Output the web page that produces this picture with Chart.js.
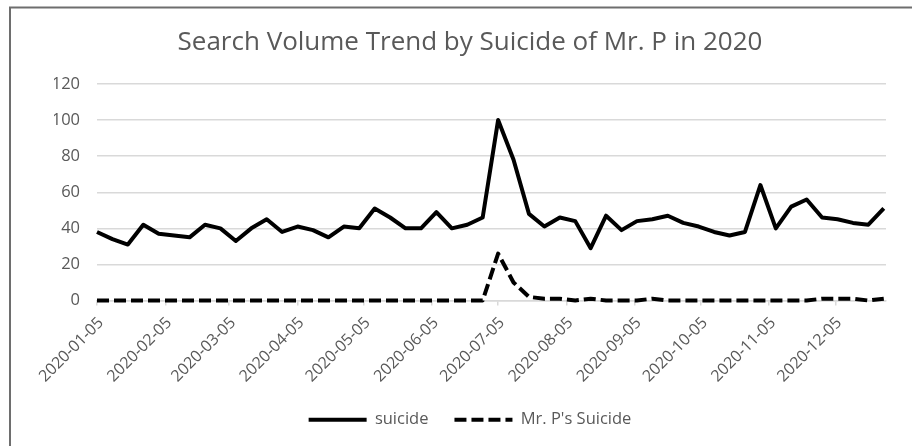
<!DOCTYPE html>
<html>
<head>
<meta charset="utf-8">
<title>Search Volume Trend by Suicide of Mr. P in 2020</title>
<script src="https://cdn.jsdelivr.net/npm/chart.js@4.4.1/dist/chart.umd.min.js"></script>
<style>
  html, body { margin: 0; padding: 0; background: #ffffff; }
  canvas { display: block; }
</style>
</head>
<body>
<canvas id="trend" width="912" height="446"></canvas>
<script>
// Weekly observations (week starting Sunday), 2020
const weeks = [
  '2020-01-05','2020-01-12','2020-01-19','2020-01-26',
  '2020-02-02','2020-02-09','2020-02-16','2020-02-23',
  '2020-03-01','2020-03-08','2020-03-15','2020-03-22','2020-03-29',
  '2020-04-05','2020-04-12','2020-04-19','2020-04-26',
  '2020-05-03','2020-05-10','2020-05-17','2020-05-24','2020-05-31',
  '2020-06-07','2020-06-14','2020-06-21','2020-06-28',
  '2020-07-05','2020-07-12','2020-07-19','2020-07-26',
  '2020-08-02','2020-08-09','2020-08-16','2020-08-23','2020-08-30',
  '2020-09-06','2020-09-13','2020-09-20','2020-09-27',
  '2020-10-04','2020-10-11','2020-10-18','2020-10-25',
  '2020-11-01','2020-11-08','2020-11-15','2020-11-22','2020-11-29',
  '2020-12-06','2020-12-13','2020-12-20','2020-12-27'
];

// Relative search volume for "suicide"
const suicide = [
  38, 34, 31, 42, 37, 36, 35, 42, 40, 33, 40, 45, 38, 41, 39, 35,
  41, 40, 51, 46, 40, 40, 49, 40, 42, 46,
  100, 78, 48, 41, 46, 44, 29, 47,
  39, 44, 45, 47, 43, 41, 38, 36, 38, 64, 40, 52, 56, 46, 45, 43, 42, 51
];

// Relative search volume for "Mr. P's Suicide"
const mrPSuicide = [
  0, 0, 0, 0, 0, 0, 0, 0, 0, 0, 0, 0, 0, 0, 0, 0,
  0, 0, 0, 0, 0, 0, 0, 0, 0, 0,
  26, 10, 2, 1, 1, 0, 1, 0,
  0, 0, 1, 0, 0, 0, 0, 0, 0, 0, 0, 0, 0, 1, 1, 1, 0, 1
];

// Monthly axis labels
const monthTicks = [
  '2020-01-05','2020-02-05','2020-03-05','2020-04-05','2020-05-05','2020-06-05',
  '2020-07-05','2020-08-05','2020-09-05','2020-10-05','2020-11-05','2020-12-05'
];

const titleText = 'Search Volume Trend by Suicide of Mr. P in 2020';
const seriesNames = ['suicide', "Mr. P's Suicide"];

// Dates become day offsets from the first week so the x axis is a true time line
const DAY_MS = 86400000;
const origin = Date.parse(weeks[0]);
const dayOf = d => (Date.parse(d) - origin) / DAY_MS;
const toPoints = vals => vals.map((v, i) => ({ x: dayOf(weeks[i]), y: v }));
const tickDays = monthTicks.map(dayOf);

const FONT = 'Open Sans';
const TEXT = '#595959';
const GRID = '#d9d9d9';
const LINE_W = 4;

// Thin outer frame along the top and left edges
const framePlugin = {
  id: 'frame',
  afterDraw(chart) {
    const ctx = chart.ctx;
    ctx.save();
    ctx.strokeStyle = '#6e6e6e';
    ctx.lineWidth = 2;
    ctx.beginPath();
    ctx.moveTo(10, chart.height);
    ctx.lineTo(10, 7.5);
    ctx.lineTo(chart.width, 7.5);
    ctx.stroke();
    ctx.restore();
  }
};

new Chart(document.getElementById('trend'), {
  type: 'line',
  data: {
    datasets: [
      {
        label: seriesNames[0],
        data: toPoints(suicide),
        borderColor: '#000000',
        backgroundColor: '#000000',
        borderWidth: LINE_W,
        pointRadius: 0,
        tension: 0,
        fill: false,
        clip: false,
        borderJoinStyle: 'round'
      },
      {
        label: seriesNames[1],
        data: toPoints(mrPSuicide),
        borderColor: '#000000',
        backgroundColor: '#000000',
        borderWidth: LINE_W,
        borderDash: [12, 5],
        pointRadius: 0,
        tension: 0,
        fill: false,
        clip: false,
        borderJoinStyle: 'round'
      }
    ]
  },
  options: {
    responsive: false,
    animation: false,
    devicePixelRatio: 1,
    layout: { padding: { left: 54, right: 26, top: 0, bottom: 8 } },
    plugins: {
      title: {
        display: true,
        text: titleText,
        color: TEXT,
        font: { family: FONT, size: 26, weight: 'normal' },
        padding: { top: 27, bottom: 25.8 }
      },
      legend: {
        position: 'bottom',
        labels: {
          usePointStyle: true,
          pointStyle: 'line',
          pointStyleWidth: 58,
          color: TEXT,
          font: { family: FONT, size: 16.5 },
          padding: 26,
          // legend swatches repeat each series' own stroke and dash
          generateLabels: chart => {
            const items = Chart.defaults.plugins.legend.labels.generateLabels(chart);
            return items.map(it => {
              const ds = chart.data.datasets[it.datasetIndex];
              it.lineDash = ds.borderDash || [];
              it.lineWidth = ds.borderWidth;
              it.strokeStyle = ds.borderColor;
              return it;
            });
          }
        }
      },
      tooltip: { enabled: false }
    },
    scales: {
      x: {
        type: 'linear',
        min: 0,
        max: dayOf(weeks[weeks.length - 1]) + 1,
        afterBuildTicks: s => { s.ticks = tickDays.map(v => ({ value: v })); },
        afterFit: s => { s.height = 85; s.paddingLeft = 0; s.paddingRight = 0; },
        grid: { drawOnChartArea: false, drawTicks: true, tickLength: 5, color: GRID, lineWidth: 1.5 },
        border: { color: GRID, width: 1.5 },
        ticks: {
          autoSkip: false,
          maxRotation: 45,
          minRotation: 45,
          color: TEXT,
          font: { family: FONT, size: 16 },
          padding: 8,
          labelOffset: 4,
          callback: (v, i) => monthTicks[i]
        }
      },
      y: {
        min: 0,
        max: 120,
        afterFit: s => { s.width = 43; },
        border: { display: false },
        grid: { color: GRID, lineWidth: 1.5, drawTicks: false },
        ticks: { stepSize: 20, padding: 17, color: TEXT, font: { family: FONT, size: 16.5 } }
      }
    }
  },
  plugins: [framePlugin]
});
</script>
</body>
</html>
